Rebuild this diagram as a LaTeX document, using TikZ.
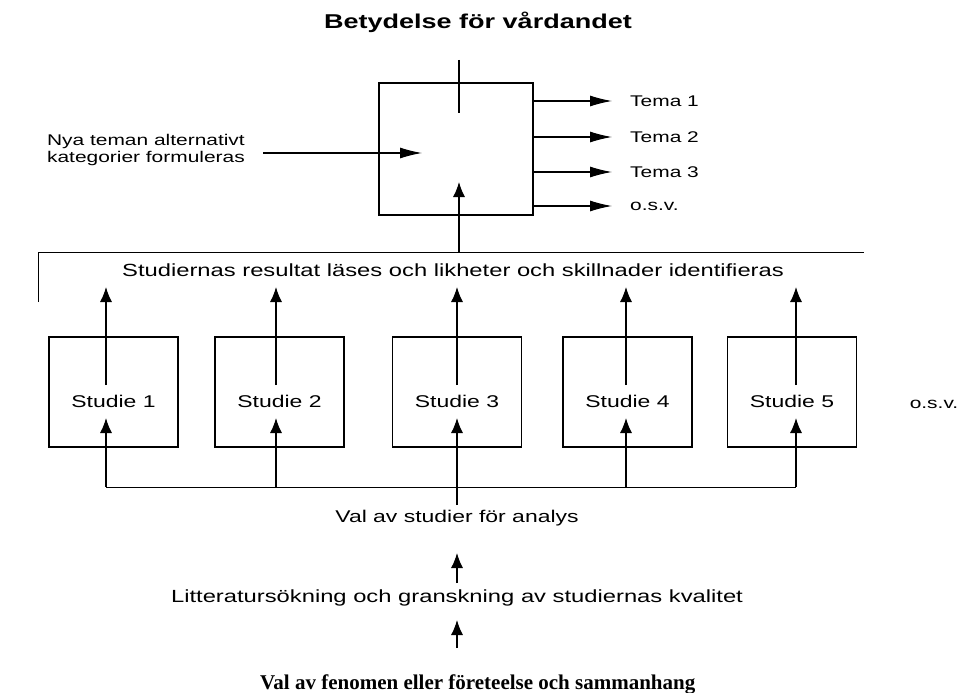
\documentclass[tikz,border=0pt]{standalone}
\usepackage{fontspec}
\setmainfont[FakeStretch=1.35]{Liberation Sans}
\newfontfamily\timesfont{Liberation Serif}
\usetikzlibrary{arrows.meta}
\tikzset{
  boxst/.style={draw, line width=1.1pt, inner sep=0pt},
  arr/.style={line width=1.2pt, -{Latex[length=15pt,width=12pt]}},
  arrlong/.style={line width=1.1pt, -{Latex[length=22pt,width=11pt]}},
  ln/.style={line width=1.2pt},
  thin/.style={line width=0.9pt},
  lbl/.style={font=\fontsize{17}{19}\selectfont, inner sep=0pt},
  lblbig/.style={font=\fontsize{17.6}{19}\selectfont, inner sep=0pt},
  lblsm/.style={font=\fontsize{15.5}{17}\selectfont, inner sep=0pt},
}
\begin{document}
\begin{tikzpicture}[x=1pt,y=-1pt]
\useasboundingbox (0,0) rectangle (964,693);
% title
\node[font=\bfseries\fontsize{20}{22}\selectfont, inner sep=0pt] (title) at (478,22) {Betydelse för vårdandet};
% top box
\node[boxst, minimum width=154pt, minimum height=132pt] (top) at (456,149) {};
\coordinate (tlineA) at (459,60);
\coordinate (tlineB) at (459,113);
\draw[ln] (tlineA) -- (tlineB);
% left input
\node[lblsm, align=right, anchor=east] (nya) at (245,150) {Nya teman alternativt\\kategorier formuleras};
\coordinate (inA) at (263,153);
\coordinate (inB) at (422,153);
\draw[arrlong] (inA) -- (inB);
% themes
\foreach \y/\t [count=\i] in {101/Tema 1,137/Tema 2,172/Tema 3,206/o.s.v.}{
  \node[lblsm, anchor=west] (tema\i) at (630,\y) {\t};
  \coordinate (ts\i) at (533,\y);
  \coordinate (te\i) at (612,\y);
  \draw[arrlong] (ts\i) -- (te\i);
}
% upper bus
\coordinate (busL) at (38,252);
\coordinate (busR) at (864,252);
\coordinate (busLd) at (38,302);
\coordinate (busC) at (459,252);
\coordinate (topin) at (459,182);
\draw[thin] (busLd) -- (busL) -- (busR);
\draw[arr] (busC) -- (topin);
\node[lblbig, anchor=west] (res) at (122,270) {Studiernas resultat läses och likheter och skillnader identifieras};
% studies
\foreach \cx/\ax [count=\i] in {113.5/106,279.5/276,457/457,627.5/626,792/796}{
  \node[boxst, minimum width=129pt, minimum height=110pt] (s\i) at (\cx,392) {};
  \node[lbl] (sl\i) at (\cx,401) {Studie \i};
  \coordinate (sup\i) at (\ax,385);
  \coordinate (stip\i) at (\ax,287);
  \draw[arr] (sup\i) -- (stip\i);
  \coordinate (sbus\i) at (\ax,487);
  \coordinate (sin\i) at (\ax,418);
  \draw[arr] (sbus\i) -- (sin\i);
}
\draw[thin] (sbus1) -- (sbus5);
\node[lblsm] (osv) at (934,404) {o.s.v.};
% bottom chain
\node[lbl] (val) at (457,518) {Val av studier för analys};
\coordinate (valtop) at (457,505);
\draw[ln] (valtop) -- (sbus3);
\node[lblbig] (lit) at (457,598) {Litteratursökning och granskning av studiernas kvalitet};
\coordinate (a1s) at (457,583);
\coordinate (a1e) at (457,553);
\draw[arr] (a1s) -- (a1e);
\coordinate (a2s) at (457,648);
\coordinate (a2e) at (457,620);
\draw[arr] (a2s) -- (a2e);
\node[font=\timesfont\bfseries\fontsize{21}{23}\selectfont, inner sep=0pt, anchor=west] (fen) at (260,684) {Val av fenomen eller företeelse och sammanhang};
\end{tikzpicture}
\end{document}
